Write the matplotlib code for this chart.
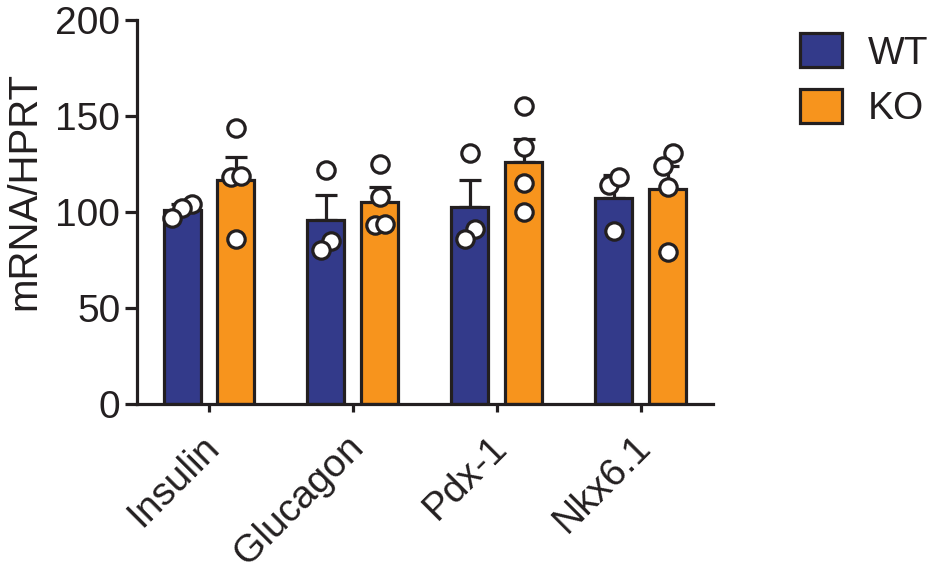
import matplotlib
matplotlib.use("Agg")
import matplotlib.pyplot as plt
from matplotlib.transforms import ScaledTranslation
import numpy as np

# Gene expression relative to HPRT, individual animals per genotype
genes = ["Insulin", "Glucagon", "Pdx-1", "Nkx6.1"]
wt_points = [
    [104, 102, 97],
    [122, 85, 80],
    [131, 91, 86],
    [114, 118, 90],
]
ko_points = [
    [144, 118, 119, 86],
    [125, 108, 93, 94],
    [155, 134, 115, 100],
    [131, 124, 113, 79],
]
wt_sem = [3, 13, 14, 12]
ko_sem = [12, 8, 12, 12]

INK = "#231F20"
WT_COLOR = "#333A8A"
KO_COLOR = "#F7941D"
LW = 2.3
FS = 28

plt.rcParams["font.family"] = ["Liberation Sans", "DejaVu Sans"]
plt.rcParams["text.color"] = INK
plt.rcParams["axes.labelcolor"] = INK
plt.rcParams["xtick.color"] = INK
plt.rcParams["ytick.color"] = INK


def spread(values, step=0.07, close=9):
    """Simple beeswarm: points with similar values are pushed side by side."""
    order = np.argsort(values)
    offsets = np.zeros(len(values))
    i = 0
    while i < len(order):
        j = i
        while j + 1 < len(order) and values[order[j + 1]] - values[order[i]] < close:
            j += 1
        n = j - i + 1
        if n > 1:
            pos = (np.arange(n) - (n - 1) / 2) * step
            for k, idx in enumerate(order[i:j + 1]):
                offsets[idx] = pos[k]
        i = j + 1
    return offsets


fig = plt.figure(figsize=(9.28, 5.74), dpi=100)
ax = fig.add_axes([0.1476, 0.2962, 0.768 - 0.1476, 0.965 - 0.2962])

x = np.arange(len(genes))
shift = 0.187
bw = 0.257

for pts, sem, col, dx, lab in [
    (wt_points, wt_sem, WT_COLOR, -shift, "WT"),
    (ko_points, ko_sem, KO_COLOR, shift, "KO"),
]:
    means = [np.mean(p) for p in pts]
    ax.bar(x + dx, means, width=bw, color=col, edgecolor=INK, linewidth=LW,
           label=lab, zorder=2)
    ax.errorbar(x + dx, means, yerr=[np.zeros(len(sem)), sem], fmt="none",
                ecolor=INK, elinewidth=LW, capsize=8, capthick=LW, zorder=1)
    for xi, p in zip(x + dx, pts):
        off = spread(np.array(p, dtype=float))
        ax.plot(xi + off, p, "o", ms=12.5, mfc="white", mec=INK, mew=LW,
                zorder=3, clip_on=False)

ax.set_xlim(-0.5, 3.5)
ax.set_ylim(0, 200)
ax.set_yticks([0, 50, 100, 150, 200])
ax.set_xticks(x)
ax.tick_params(axis="y", labelsize=FS, width=LW, length=9, pad=3)
ax.tick_params(axis="x", width=LW, length=6, pad=12)
ax.set_xticklabels(genes, rotation=45, ha="right", rotation_mode="anchor",
                   fontsize=FS)
# nudge the slanted gene names a little to the left
nudge = ScaledTranslation(-0.08, 0, fig.dpi_scale_trans)
for t in ax.get_xticklabels():
    t.set_transform(t.get_transform() + nudge)
ax.set_ylabel("mRNA/HPRT", fontsize=29)
ax.yaxis.set_label_coords(-0.163, 0.555)

for s in ["top", "right"]:
    ax.spines[s].set_visible(False)
for s in ["left", "bottom"]:
    ax.spines[s].set_linewidth(LW)
    ax.spines[s].set_color(INK)

leg = ax.legend(loc="upper left", bbox_to_anchor=(1.151, 0.966), frameon=False,
                fontsize=FS, handlelength=1.1, handleheight=0.97,
                handletextpad=0.66, labelspacing=0.45, borderaxespad=0,
                borderpad=0)

fig.savefig("out.png", dpi=100)
